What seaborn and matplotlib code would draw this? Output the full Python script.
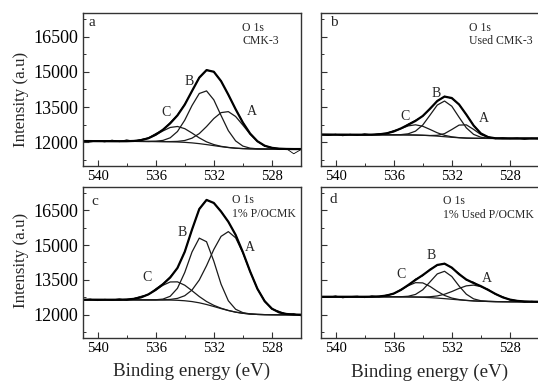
import numpy as np
import pandas as pd
import matplotlib
matplotlib.use("Agg")
import matplotlib.pyplot as plt
import seaborn as sns
from matplotlib.ticker import MultipleLocator

sns.set_style("ticks")
plt.rcParams["font.family"] = ["Liberation Serif", "DejaVu Serif"]

# ---- data (binding energy grid, eV) ----
energy = [541.0, 540.5, 540.0, 539.5, 539.0, 538.5, 538.0, 537.5, 537.0, 536.5,
          536.0, 535.5, 535.0, 534.5, 534.0, 533.5, 533.0, 532.5, 532.0, 531.5,
          531.0, 530.5, 530.0, 529.5, 529.0, 528.5, 528.0, 527.5, 527.0, 526.5, 526.0]

# panel a: CMK-3
bg_a = [12060, 12058, 12056, 12054, 12052, 12050, 12048, 12046, 12044, 12042, 12040, 12036, 12030, 12020, 12005, 11982,
        11950, 11910, 11866, 11822, 11785, 11757, 11739, 11729, 11724, 11721, 11720, 11720, 11720, 11720, 11720]
peakA_a = [0, 0, 0, 0, 0, 0, 0, 0, 0, 0, 0, 0, 7, 26, 78, 200, 427, 766, 1149, 1446, 1525, 1347, 998, 620, 322, 141, 51, 16, 4, 0, 0]
peakB_a = [0, 0, 0, 0, 0, 0, 0, 0, 0, 0, 12, 51, 168, 446, 941, 1586, 2130, 2280, 1945, 1323, 717, 310, 107, 29, 6, 0, 0, 0, 0, 0, 0]
peakC_a = [0, 0, 0, 0, 0, 1, 5, 18, 55, 137, 277, 454, 607, 659, 582, 418, 245, 116, 45, 14, 4, 0, 0, 0, 0, 0, 0, 0, 0, 0, 0]
resid_a = [20, -40, 10, -30, 50, -20, 60, -10, 30, 20, 50, -10, 40, 20, 30, -20, 30, 20, -10, 20, -20, 10, 20, -20, 10, -30, 20, -40, 10, -200, -20]

# panel b: Used CMK-3
bg_b = [12335, 12334, 12333, 12332, 12331, 12330, 12329, 12328, 12327, 12326, 12325, 12323, 12320, 12315, 12305, 12290,
        12270, 12245, 12220, 12200, 12185, 12178, 12174, 12172, 12170, 12170, 12170, 12170, 12170, 12170, 12170]
peakA_b = [0, 0, 0, 0, 0, 0, 0, 0, 0, 0, 0, 0, 0, 0, 1, 5, 33, 130, 330, 538, 563, 377, 162, 45, 8, 1, 0, 0, 0, 0, 0]
peakB_b = [0, 0, 0, 0, 0, 0, 0, 0, 0, 0, 0, 10, 48, 165, 435, 871, 1319, 1515, 1319, 871, 435, 165, 48, 10, 0, 0, 0, 0, 0, 0, 0]
peakC_b = [0, 0, 0, 0, 0, 0, 1, 5, 19, 59, 141, 264, 384, 435, 384, 264, 141, 59, 19, 5, 1, 0, 0, 0, 0, 0, 0, 0, 0, 0, 0]
resid_b = [0, -40, 20, -50, 20, -30, 40, -10, 30, 10, 40, -10, 30, 30, -10, 30, -20, 20, -30, 10, -10, 20, -10, 20, -20, 30, -10, 20, -40, 10, -20]

# panel c: 1% P/OCMK
bg_c = [12650, 12649, 12648, 12647, 12646, 12645, 12644, 12643, 12642, 12641, 12639, 12637, 12633, 12623, 12603, 12568,
        12515, 12442, 12356, 12266, 12182, 12113, 12064, 12032, 12015, 12006, 12002, 12000, 12000, 12000, 12000]
peakA_c = [0, 0, 0, 0, 0, 0, 0, 0, 0, 0, 0, 7, 27, 82, 217, 496, 981, 1670, 2454, 3109, 3397, 3202, 2603, 1825, 1104, 576, 259, 101, 34, 10, 2]
peakB_c = [0, 0, 0, 0, 0, 0, 0, 0, 0, 0, 7, 38, 163, 517, 1217, 2134, 2784, 2702, 1953, 1050, 420, 125, 28, 5, 0, 0, 0, 0, 0, 0, 0]
peakC_c = [0, 0, 0, 0, 1, 3, 13, 42, 109, 237, 425, 633, 779, 794, 670, 468, 270, 129, 51, 17, 5, 1, 0, 0, 0, 0, 0, 0, 0, 0, 0]
resid_c = [-20, 30, -40, 20, -10, 40, -30, 20, 50, -10, 50, 20, 40, -10, 30, -20, 20, 10, -10, 20, -10, 10, -20, 10, -10, 30, -20, 50, -20, 40, -50]

# panel d: 1% Used P/OCMK
bg_d = [12775, 12775, 12775, 12775, 12775, 12775, 12775, 12775, 12775, 12774, 12774, 12772, 12768, 12762, 12752, 12738,
        12718, 12694, 12668, 12641, 12617, 12597, 12583, 12573, 12567, 12563, 12561, 12560, 12560, 12560, 12560]
peakA_d = [0, 0, 0, 0, 0, 0, 0, 0, 0, 0, 0, 0, 0, 4, 13, 38, 92, 189, 331, 494, 628, 680, 628, 494, 331, 189, 92, 38, 13, 4, 0]
peakB_d = [0, 0, 0, 0, 0, 0, 0, 0, 0, 0, 0, 5, 29, 113, 322, 676, 1041, 1178, 979, 597, 268, 88, 21, 4, 0, 0, 0, 0, 0, 0, 0]
peakC_d = [0, 0, 0, 0, 0, 0, 0, 3, 15, 51, 138, 293, 483, 620, 620, 483, 293, 138, 51, 15, 3, 0, 0, 0, 0, 0, 0, 0, 0, 0, 0]
resid_d = [20, -30, 40, -50, 10, 30, -40, 40, -20, 30, -10, 30, -20, 40, -30, 30, -20, 20, -20, 40, -30, 40, -20, 30, -20, 30, -20, 20, -30, 20, -10]

panel_letters = ["a", "b", "c", "d"]
sample_names = ["CMK-3", "Used CMK-3", "1% P/OCMK", "1% Used P/OCMK"]
core_level = "O 1s"
x_ticks = [540, 536, 532, 528]
y_ticks = [12000, 13500, 15000, 16500]
peak_names = ["A", "B", "C"]
# label anchor positions (energy, intensity) for A, B, C in each panel
label_pos = [
    [(529.4, 13310), (533.7, 14600), (535.3, 13267)],
    [(529.8, 13014), (533.1, 14084), (535.2, 13100)],
    [(529.5, 14886), (534.2, 15520), (536.6, 13590)],
    [(529.6, 13550), (533.4, 14560), (535.5, 13718)],
]

series = [
    (bg_a, peakA_a, peakB_a, peakC_a, resid_a),
    (bg_b, peakA_b, peakB_b, peakC_b, resid_b),
    (bg_c, peakA_c, peakB_c, peakC_c, resid_c),
    (bg_d, peakA_d, peakB_d, peakC_d, resid_d),
]

# ---- layout (pixel boxes: left, top, right, bottom) ----
W, H = 538, 381
fig = plt.figure(figsize=(W / 100, H / 100), dpi=100)
boxes = [(83, 13, 301, 166), (321, 13, 539, 166), (83, 187, 301, 338), (321, 187, 539, 338)]
# annotation text positions in axes fraction: (x_line1, y_line1, x_line2, y_line2), letter (x, y)
text_pos = [
    (0.73, 0.905, 0.73, 0.815, 0.025, 0.935),
    (0.678, 0.905, 0.678, 0.815, 0.04, 0.935),
    (0.683, 0.912, 0.683, 0.822, 0.04, 0.905),
    (0.56, 0.905, 0.56, 0.815, 0.04, 0.92),
]

for i, (bg, pa, pb, pc, rs) in enumerate(series):
    l, t, r, b = boxes[i]
    ax = fig.add_axes([l / W, 1 - b / H, (r - l) / W, (b - t) / H])
    bgv = np.array(bg, float)
    A = bgv + np.array(pa)
    B = bgv + np.array(pb)
    C = bgv + np.array(pc)
    env = bgv + np.array(pa) + np.array(pb) + np.array(pc)
    raw = env + np.array(rs)
    df = pd.DataFrame({"energy": energy, "bg": bgv, "A": A, "B": B, "C": C, "env": env, "raw": raw})

    for col in ["bg", "A", "B", "C"]:
        sns.lineplot(data=df, x="energy", y=col, ax=ax, color="#1a1a1a", lw=0.9, sort=False, estimator=None)
    sns.lineplot(data=df, x="energy", y="env", ax=ax, color="black", lw=1.6, sort=False, estimator=None)
    sns.lineplot(data=df, x="energy", y="raw", ax=ax, color="black", lw=0.6, sort=False, estimator=None)

    ax.set_xlim(541, 526)
    ax.set_ylim(11000, 17500)
    ax.set_xticks(x_ticks)
    ax.set_yticks(y_ticks)
    ax.xaxis.set_minor_locator(MultipleLocator(2))
    ax.yaxis.set_minor_locator(MultipleLocator(750))
    ax.tick_params(axis="both", which="both", direction="in", top=False, right=False, colors="#333333")
    ax.tick_params(axis="both", which="major", length=4, width=0.8)
    ax.tick_params(axis="both", which="minor", length=2, width=0.7)
    ax.tick_params(axis="x", labelsize=10.5, pad=3, labelcolor="black")
    ax.tick_params(axis="y", labelsize=13, pad=3.5, labelcolor="black")
    if i in (1, 3):
        ax.set_yticklabels([])
    ax.set_xlabel("")
    ax.set_ylabel("")
    for sp in ax.spines.values():
        sp.set_visible(True)
        sp.set_linewidth(1.0)
        sp.set_color("#333333")

    x1, y1, x2, y2, lx, ly = text_pos[i]
    ax.text(x1, y1, core_level, transform=ax.transAxes, fontsize=8.5, ha="left", va="center")
    ax.text(x2, y2, sample_names[i], transform=ax.transAxes, fontsize=8.5, ha="left", va="center")
    ax.text(lx, ly, panel_letters[i], transform=ax.transAxes, fontsize=11, ha="left", va="center")
    for name, (ex, iy) in zip(peak_names, label_pos[i]):
        ax.text(ex, iy, name, fontsize=10, ha="center", va="center")

fig.text(21 / W, 1 - 99 / H, "Intensity (a.u)", rotation=90, fontsize=12.2, ha="center", va="center")
fig.text(21 / W, 1 - 260 / H, "Intensity (a.u)", rotation=90, fontsize=12.2, ha="center", va="center")
fig.text(192 / W, 1 - 371 / H, "Binding energy (eV)", fontsize=13.7, ha="center", va="center")
fig.text(430 / W, 1 - 372 / H, "Binding energy (eV)", fontsize=13.7, ha="center", va="center")

fig.savefig("out.png", dpi=100)
